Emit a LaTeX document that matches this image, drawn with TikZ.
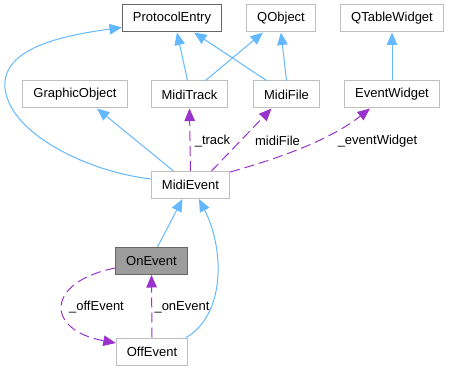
\documentclass[tikz,border=0pt]{standalone}
\usepackage{fontspec}
\setmainfont{Liberation Sans}
\usepackage{tikz}
\usetikzlibrary{arrows.meta,positioning}
\usepackage{xcolor}
\definecolor{inhblue}{RGB}{99,184,255}
\definecolor{usepurple}{RGB}{154,50,205}
\definecolor{boxgray}{RGB}{191,191,191}
\definecolor{darkgray}{RGB}{102,102,102}
\tikzstyle{cls} = [draw=boxgray, line width=1pt, fill=white, minimum height=27pt, inner xsep=10.5pt, font=\fontsize{13}{15}\selectfont]
\tikzstyle{clsdark} = [cls, draw=darkgray]
\tikzstyle{inherit} = [line width=1pt, color=inhblue, -{Triangle[length=12.5pt,width=10.5pt]}]
\tikzstyle{usage} = [line width=1pt, color=usepurple, dash pattern=on 10pt off 5pt, -{Triangle[length=12.5pt,width=10.5pt]}]
\tikzstyle{lbl} = [font=\fontsize{13}{15}\selectfont, inner sep=0pt]

\begin{document}
\begin{tikzpicture}[x=1pt,y=-1pt]
\useasboundingbox (0,0) rectangle (449,371);

% Classes
\node[clsdark] (pentry) at (172,18.5) {ProtocolEntry};
\node[cls] (qobj) at (281,18.5) {QObject};
\node[cls] (qtable) at (392,18.5) {QTableWidget};
\node[cls] (gobj) at (75,94.5) {GraphicObject};
\node[cls] (mtrack) at (189.5,94.5) {MidiTrack};
\node[cls] (mfile) at (286.5,94.5) {MidiFile};
\node[cls] (ewidget) at (392,94.5) {EventWidget};
\node[cls] (mevent) at (190.5,185) {MidiEvent};
\node[clsdark, fill=darkgray!65] (onev) at (151.5,261) {OnEvent};
\node[cls] (offev) at (152,351.5) {OffEvent};

% Inheritance
\draw[inherit] ([xshift=-2pt]mtrack.north) -- ([xshift=5pt]pentry.south);
\draw[inherit] ([xshift=16pt]mtrack.north) -- ([xshift=-18pt]qobj.south);
\draw[inherit] ([xshift=-20pt]mfile.north) -- ([xshift=22pt]pentry.south);
\draw[inherit] (mfile.north) -- (qobj.south);
\draw[inherit] (ewidget.north) -- (qtable.south);
\draw[inherit] ([yshift=6pt]mevent.west) .. controls (90,172) and (10,135) .. (5,88)
  .. controls (2,52) and (50,37) .. ([yshift=-9pt]pentry.west);
\draw[inherit] ([xshift=-17pt]mevent.north) -- ([xshift=22pt]gobj.south);
\draw[inherit] ([xshift=6pt]onev.north) -- ([xshift=-8pt]mevent.south);
\draw[inherit] ([xshift=-2pt]offev.north east) .. controls (225,315) and (225,250) .. ([xshift=8.5pt]mevent.south);

% Members
\draw[usage] (mevent.north) -- (mtrack.south);
\draw[usage] ([xshift=21pt]mevent.north) -- ([xshift=-15pt]mfile.south);
\draw[usage] ([yshift=-1pt]mevent.north east) .. controls (280,158) and (330,140) .. ([xshift=-22pt]ewidget.south);
\draw[usage] (offev.north) -- (onev.south);
\draw[usage] ([yshift=-7pt]onev.west) .. controls (45,282) and (45,330) .. ([yshift=8.5pt]offev.west);

% Labels
\node[lbl] (ltrack) at (212.5,141) {\_track};
\node[lbl] (lmfile) at (277.5,141) {midiFile};
\node[lbl] (lwidget) at (377.5,141) {\_eventWidget};
\node[lbl] (loff) at (96.5,307) {\_offEvent};
\node[lbl] (lon) at (182,307) {\_onEvent};
\end{tikzpicture}
\end{document}
